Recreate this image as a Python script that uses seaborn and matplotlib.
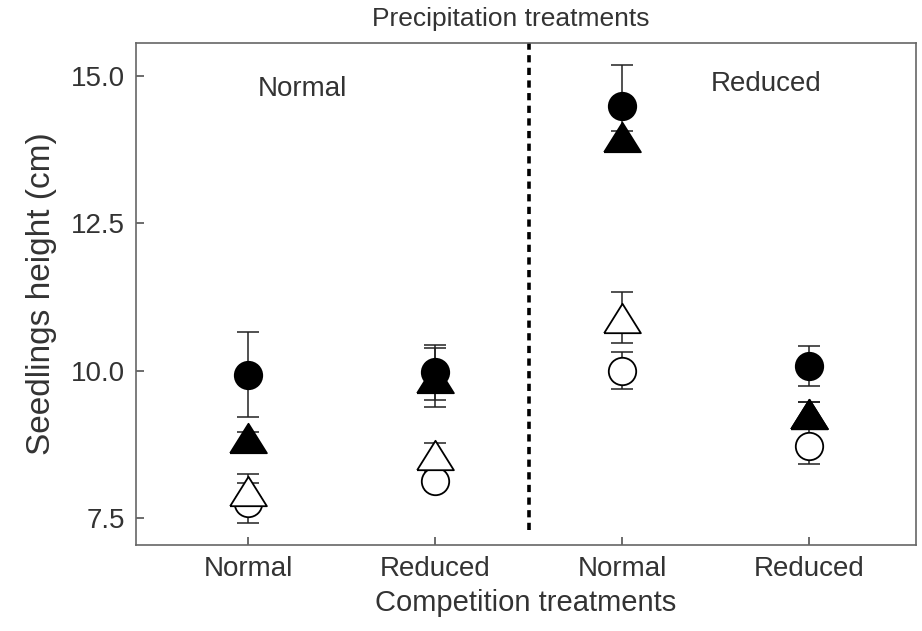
import pandas as pd
import matplotlib
matplotlib.use("Agg")
import matplotlib.pyplot as plt
import seaborn as sns

# precipitation x competition groups, left to right
precipitation = ['Normal', 'Normal', 'Reduced', 'Reduced']
competition = ['Normal', 'Reduced', 'Normal', 'Reduced']

# four series: open circle, open triangle, filled circle, filled triangle
open_circle_mean = [7.75, 8.13, 10.0, 8.72]
open_circle_err = [0.34, 0.15, 0.31, 0.3]
open_triangle_mean = [7.95, 8.57, 10.9, 9.26]
open_triangle_err = [0.3, 0.2, 0.43, 0.2]
filled_circle_mean = [9.93, 9.97, 14.49, 10.07]
filled_circle_err = [0.72, 0.47, 0.7, 0.34]
filled_triangle_mean = [8.86, 9.88, 13.97, 9.27]
filled_triangle_err = [0.1, 0.5, 0.1, 0.2]

y_ticks = [7.5, 10.0, 12.5, 15.0]

# slightly squat triangle, like the original markers
tri = [(-1.0, -0.8), (1.0, -0.8), (0.0, 0.8), (-1.0, -0.8)]

series = [
    ('open circle', 'o', 'white', open_circle_mean, open_circle_err, 390),
    ('open triangle', tri, 'white', open_triangle_mean, open_triangle_err, 700),
    ('filled circle', 'o', 'black', filled_circle_mean, filled_circle_err, 390),
    ('filled triangle', tri, 'black', filled_triangle_mean, filled_triangle_err, 700),
]

sns.set_style("ticks")
plt.rcParams['font.family'] = ['Liberation Sans', 'DejaVu Sans']

fig = plt.figure(figsize=(9.22, 6.31), dpi=100)
ax = fig.add_axes([0.1475, 0.1363, 0.846, 0.7956])

pos = list(range(len(competition)))
for name, marker, face, mean, err, size in series:
    df = pd.DataFrame({'pos': pos, 'height': mean, 'err': err})
    ax.errorbar(df['pos'], df['height'], yerr=df['err'], fmt='none',
                ecolor='#222222', elinewidth=1.1, capsize=8, capthick=1.1, zorder=2)
    sns.scatterplot(data=df, x='pos', y='height', marker=marker, s=size,
                    color=face, edgecolor='black', linewidth=1.3, ax=ax, zorder=3)

ax.vlines(1.5, 7.3, 15.6, colors='black', linestyles=(0, (2, 1.5)), linewidth=2.6, zorder=1)

ax.set_xlim(-0.6, 3.57)
ax.set_ylim(7.04, 15.56)
ax.set_xticks(pos)
ax.set_xticklabels(competition)
ax.set_yticks(y_ticks)
ax.set_yticklabels([f'{t:.1f}' for t in y_ticks])
ax.tick_params(direction='in', length=6, width=1.1, colors='#444444', labelcolor='#333333',
               labelsize=20, pad=8)

ax.text(0.29, 14.78, 'Normal', ha='center', va='center', fontsize=20, color='#333333')
ax.text(2.77, 14.86, 'Reduced', ha='center', va='center', fontsize=20, color='#333333')

ax.set_xlabel('Competition treatments', fontsize=21, color='#333333', labelpad=5)
ax.set_ylabel('Seedlings height (cm)', fontsize=24, color='#333333', labelpad=10)
ax.set_title('Precipitation treatments', fontsize=19, color='#333333', pad=12, x=0.48)

for sp in ax.spines.values():
    sp.set_color('#666666')
    sp.set_linewidth(1.2)

fig.savefig('out.png', dpi=100)
